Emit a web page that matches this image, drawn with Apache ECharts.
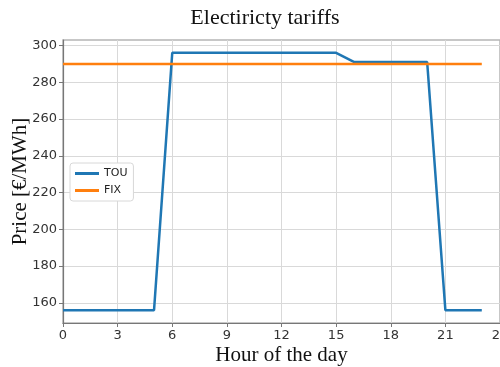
<!DOCTYPE html>
<html><head><meta charset="utf-8">
<script src="https://cdn.jsdelivr.net/npm/echarts@6/dist/echarts.min.js"></script>
<style>html,body{margin:0;padding:0;background:#fff}#c{width:500px;height:367px}</style>
</head><body><div id="c"></div>
<script>
const hours = [0,1,2,3,4,5,6,7,8,9,10,11,12,13,14,15,16,17,18,19,20,21,22,23];
const touPrices = [156,156,156,156,156,156,296,296,296,296,296,296,296,296,296,296,291,291,291,291,291,156,156,156];
const fixPrices = [290,290,290,290,290,290,290,290,290,290,290,290,290,290,290,290,290,290,290,290,290,290,290,290];
const yTicks = [160,180,200,220,240,260,280,300];
const xTicks = [0,3,6,9,12,15,18,21,24];

const chart = echarts.init(document.getElementById('c'), null, {renderer:'canvas'});
const serif = '"Liberation Serif","DejaVu Serif",serif';
const sans = '"DejaVu Sans",sans-serif';
chart.setOption({
  animation:false,
  title:{text:'Electiricty tariffs', left:260, textAlign:'center', top:2,
    textStyle:{fontFamily:serif, fontSize:22, fontWeight:'normal', color:'#111'}},
  grid:{left:63, right:0, top:40, bottom:44, outerBoundsMode:'none', containLabel:false,
    show:true, borderColor:'#b5b5b5', borderWidth:1.5, backgroundColor:'transparent'},
  legend:{orient:'vertical', left:70, top:163, backgroundColor:'#fff', borderColor:'#d8d8d8', borderWidth:1, borderRadius:3,
    padding:[5,6,5,5], itemGap:6, itemWidth:24, itemHeight:3, icon:'rect',
    textStyle:{fontFamily:sans, fontSize:11, color:'#222'},
    data:['TOU','FIX']},
  xAxis:{type:'value', min:0, max:24, interval:3,
    name:'Hour of the day', nameLocation:'middle', nameGap:22, nameMoveOverlap:false,
    nameTextStyle:{fontFamily:serif, fontSize:21, color:'#111'},
    axisLine:{show:true, lineStyle:{color:'#777', width:1.2}},
    axisTick:{show:true, length:4, lineStyle:{color:'#777'}},
    axisLabel:{fontFamily:sans, fontSize:13, color:'#333', margin:6, showMaxLabel:true},
    splitLine:{show:true, lineStyle:{color:'#d9d9d9', width:1}}},
  yAxis:{type:'value', min:149, max:303,
    name:'Price [€/MWh]', nameLocation:'middle', nameGap:32, nameMoveOverlap:false,
    nameTextStyle:{fontFamily:serif, fontSize:21, color:'#111'},
    axisLine:{show:true, lineStyle:{color:'#777', width:1.2}},
    axisTick:{show:true, length:4, lineStyle:{color:'#777'}, customValues:yTicks},
    axisLabel:{fontFamily:sans, fontSize:13, color:'#333', margin:6, customValues:yTicks},
    splitLine:{show:true, lineStyle:{color:'#d9d9d9', width:1}}},
  series:[
    {name:'TOU', type:'line', data:hours.map((h,i)=>[h,touPrices[i]]), showSymbol:false, symbol:'none',
      lineStyle:{color:'#1f77b4', width:2.5}, itemStyle:{color:'#1f77b4'}},
    {name:'FIX', type:'line', data:hours.map((h,i)=>[h,fixPrices[i]]), showSymbol:false, symbol:'none',
      lineStyle:{color:'#ff7f0e', width:2.5}, itemStyle:{color:'#ff7f0e'}}
  ]
});
</script></body></html>
